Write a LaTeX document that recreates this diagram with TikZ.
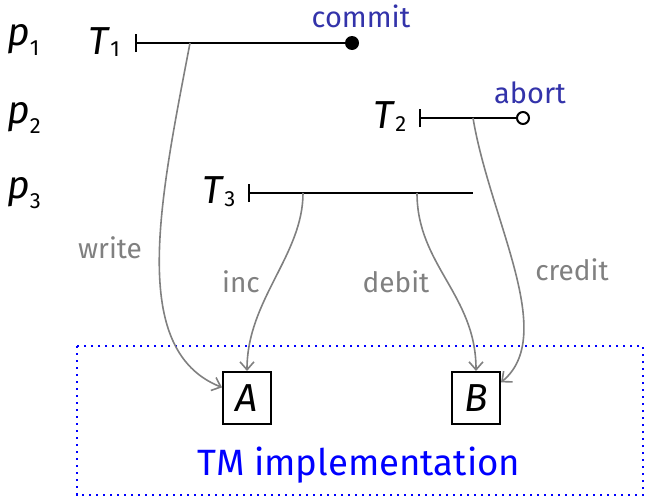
\documentclass[tikz,border=0pt]{standalone}
\usepackage{fontspec}
\setmainfont{Fira Sans}
\usetikzlibrary{arrows.meta}

\definecolor{evblue}{RGB}{51,51,170}
\definecolor{opgray}{RGB}{128,128,128}
\newcommand{\idx}[3][1.5pt]{\textit{#2}\raisebox{-#1}{\fontsize{11}{13}\selectfont #3}}

\tikzset{
  proc/.style={anchor=base west, inner sep=0pt, font=\fontsize{19.5}{22}\selectfont},
  txlabel/.style={anchor=base west, inner sep=0pt, font=\fontsize{19.5}{22}\selectfont},
  txn/.style={line width=1pt, {Bar[width=9pt]}-},
  event/.style={anchor=base, inner sep=0pt, text=evblue, font=\fontsize{14.5}{17}\selectfont},
  opname/.style={anchor=base, inner sep=0pt, text=opgray, font=\fontsize{14}{17}\selectfont},
  call/.style={draw=opgray, line width=0.8pt, -{Straight Barb[length=4pt,width=7pt]}},
  obj/.style={draw, line width=1pt, minimum width=24pt, minimum height=26pt, inner sep=0pt,
    font=\fontsize{19.5}{22}\selectfont\itshape},
}

\begin{document}
\begin{tikzpicture}[x=0.5pt, y=-0.5pt]
  \useasboundingbox (0,0) rectangle (646,498);

  % processos
  \node[proc] (p1) at (7,45) {\idx[5pt]{p}{1}};
  \node[proc] (p2) at (7,123) {\idx[5pt]{p}{2}};
  \node[proc] (p3) at (7,198) {\idx[5pt]{p}{3}};

  % transaccions
  \coordinate (s1) at (135,43);
  \coordinate (s2) at (419,118);
  \coordinate (s3) at (248,193);
  \coordinate (e3) at (473,193);
  \node[txlabel] (T1) at (88,54) {\idx{T}{1}};
  \node[txlabel] (T2) at (373,128) {\idx{T}{2}};
  \node[txlabel] (T3) at (202,203) {\idx{T}{3}};
  \node[circle, fill, inner sep=0pt, minimum size=7pt] (c1) at (352,43) {};
  \node[circle, draw, fill=white, line width=1pt, inner sep=0pt, minimum size=6pt] (a2) at (523,118) {};
  \draw[txn] (s1) -- (c1);
  \draw[txn] (s2) -- (a2);
  \draw[txn] (s3) -- (e3);
  \node[event] (commit) at (361,27) {commit};
  \node[event] (abort) at (530,103) {abort};

  % objectes
  \draw[blue, line width=1.1pt, dash pattern=on 1.1pt off 2.4pt] (77,346) rectangle (643,495);
  \node[obj] (A) at (247,398) {A};
  \node[obj] (B) at (476,398) {B};
  \node[anchor=base, inner sep=0pt, text=blue, font=\fontsize{18.3}{22}\selectfont] (tm) at (359,475) {TM implementation};

  % operacions
  \coordinate (w1) at (190,43);
  \coordinate (i3) at (303,193);
  \coordinate (d3) at (417,193);
  \coordinate (r2) at (473,118);
  \draw[call] (w1) .. controls (160,200) and (128,350) .. (A.157);
  \draw[call] (i3) .. controls (303,255) and (247,300) .. (A.north);
  \draw[call] (d3) .. controls (417,265) and (476,295) .. (B.north);
  \draw[call] (r2) .. controls (490,220) and (558,335) .. (B.32);
  \node[opname] (write) at (110,258) {write};
  \node[opname] (inc) at (241,292) {inc};
  \node[opname] (debit) at (396,292) {debit};
  \node[opname] (credit) at (572,280) {credit};
\end{tikzpicture}
\end{document}
